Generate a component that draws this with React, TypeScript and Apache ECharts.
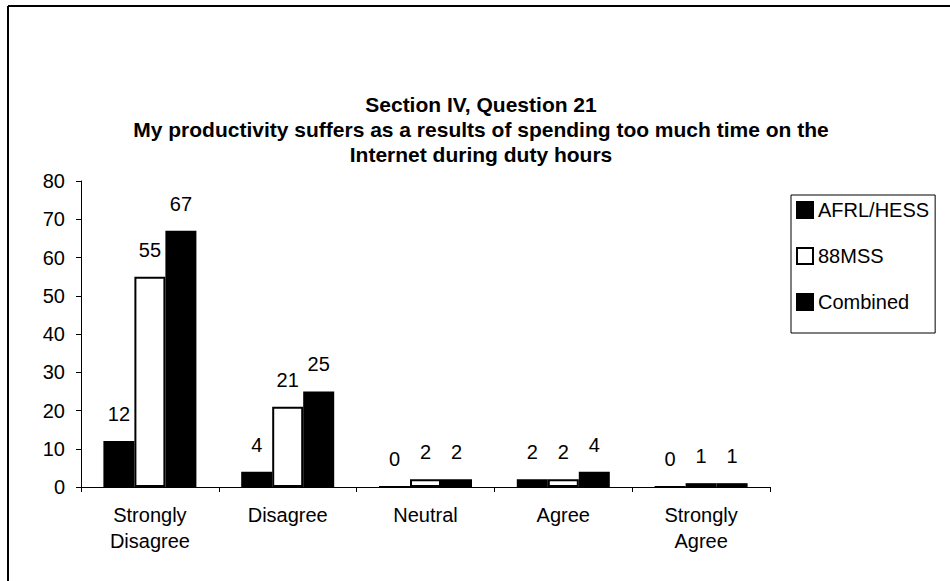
import React, { useEffect, useRef } from "react";
import * as echarts from "echarts";

const categories = ["Strongly\nDisagree", "Disagree", "Neutral", "Agree", "Strongly\nAgree"];
const seriesNames = ["AFRL/HESS", "88MSS", "Combined"];
const afrlValues = [12, 4, 0, 2, 0];
const mssValues = [55, 21, 2, 2, 1];
const combinedValues = [67, 25, 2, 4, 1];
const yTicks = { min: 0, max: 80, interval: 10 };
const titleLines = [
  "Section IV, Question 21",
  "My productivity suffers as a results of spending too much time on the",
  "Internet during duty hours",
];

const FONT = "'Liberation Sans', Arial, Helvetica, sans-serif";

export default function App() {
  const ref = useRef<HTMLDivElement>(null);
  useEffect(() => {
    if (!ref.current) return;
    const chart = echarts.init(ref.current, null, { renderer: "svg" });
    const label = {
      show: true,
      position: "top" as const,
      distance: 17,
      color: "#000",
      fontSize: 20,
      fontFamily: FONT,
    };
    const mk = (name: string, data: number[], fill: string) => ({
      name,
      type: "bar" as const,
      data,
      barWidth: 31,
      barGap: "0%",
      itemStyle: { color: fill, borderColor: "#000", borderWidth: 2 },
      label,
    });
    chart.setOption({
      animation: false,
      backgroundColor: "#fff",
      title: {
        text: titleLines.join("\n"),
        left: 476,
        textAlign: "center",
        top: 87,
        textStyle: {
          fontSize: 21,
          fontWeight: "bold",
          lineHeight: 25,
          color: "#000",
          fontFamily: FONT,
        },
      },
      legend: {
        orient: "vertical",
        left: 791,
        top: 195,
        padding: [5, 6, 21, 5],
        itemGap: 26,
        itemWidth: 16,
        itemHeight: 16,
        borderColor: "#000",
        borderWidth: 1,
        data: seriesNames.map((n) => ({ name: n, icon: "rect" })),
        textStyle: { fontSize: 20, color: "#000", fontFamily: FONT },
      },
      grid: { left: 81, right: 180, top: 181, bottom: 94, containLabel: false },
      xAxis: {
        type: "category",
        data: categories,
        axisLine: { lineStyle: { color: "#000", width: 1 } },
        axisTick: { show: true, length: 5, lineStyle: { color: "#000" } },
        axisLabel: {
          color: "#000",
          fontSize: 20,
          lineHeight: 26,
          margin: 15,
          fontFamily: FONT,
          interval: 0,
        },
      },
      yAxis: {
        type: "value",
        min: yTicks.min,
        max: yTicks.max,
        interval: yTicks.interval,
        splitLine: { show: false },
        axisLine: { show: true, lineStyle: { color: "#000", width: 1 } },
        axisTick: { show: true, length: 5, lineStyle: { color: "#000" } },
        axisLabel: { color: "#000", fontSize: 20, margin: 16, fontFamily: FONT },
      },
      graphic: [
        { type: "line", shape: { x1: 8, y1: 6, x2: 950, y2: 6 }, style: { stroke: "#000", lineWidth: 2 } },
        { type: "line", shape: { x1: 8, y1: 6, x2: 8, y2: 581 }, style: { stroke: "#000", lineWidth: 2 } },
      ],
      series: [
        mk(seriesNames[0], afrlValues, "#000"),
        mk(seriesNames[1], mssValues, "#fff"),
        mk(seriesNames[2], combinedValues, "#000"),
      ],
    });
    return () => chart.dispose();
  }, []);
  return (
    <div
      ref={ref}
      style={{ position: "fixed", left: 0, top: 0, width: 950, height: 581, background: "#fff" }}
    />
  );
}
